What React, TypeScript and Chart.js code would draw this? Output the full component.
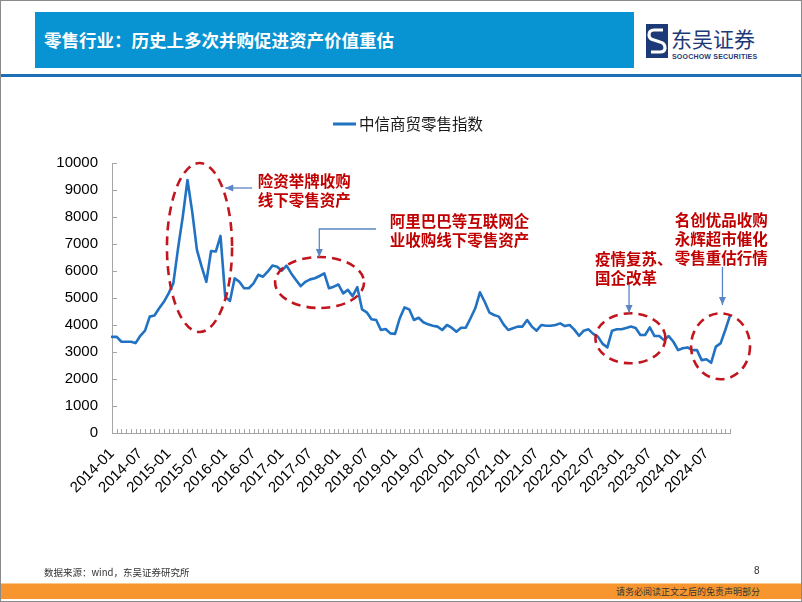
import React, { useEffect, useRef } from 'react';
import { Chart, registerables } from 'chart.js';

Chart.register(...registerables);

// ---------- data ----------
const START_YEAR = 2014;
const seriesName = '中信商贸零售指数';

// monthly values, 2014-01 .. 2024-12
const indexValues: number[] = [
  3560, 3560, 3380, 3380, 3380, 3330, 3600, 3790, 4310, 4350, 4620, 4860,
  5170, 5540, 6840, 8010, 9370, 8200, 6780, 6160, 5600, 6740, 6720, 7300,
  5050, 4890, 5730, 5600, 5360, 5360, 5540, 5860, 5790, 5975, 6200, 6160,
  6010, 6200, 5910, 5670, 5440, 5600, 5690, 5730, 5815, 5910, 5360, 5420,
  5500, 5170, 5300, 5070, 5400, 4580, 4470, 4210, 4185, 3815, 3850, 3690,
  3670, 4250, 4650, 4580, 4185, 4270, 4100, 4025, 3975, 3940, 3815, 4000,
  3900, 3750, 3900, 3900, 4250, 4620, 5210, 4860, 4460, 4370, 4310, 4025,
  3815, 3880, 3940, 3940, 4185, 3940, 3790, 4000, 3975, 3975, 4000, 4060,
  3960, 4000, 3830, 3600, 3790, 3840, 3670, 3570, 3300, 3170, 3790, 3840,
  3840, 3890, 3940, 3890, 3630, 3630, 3910, 3590, 3590, 3440, 3590, 3380,
  3070, 3140, 3170, 3070, 3070, 2700, 2730, 2600, 3200, 3320, 3815, 4350,
];

const categories: string[] = indexValues.map((_, k) => {
  const yr = START_YEAR + Math.floor(k / 12);
  const m = (k % 12) + 1;
  return `${yr}-${m < 10 ? '0' + m : m}`;
});

const LABEL_EVERY = 6;
const Y_MIN = 0;
const Y_MAX = 10000;
const Y_STEP = 1000;

// annotations in data coordinates (category index, value)
const ellipses = [
  { cx: 18.55, cy: 6870, rx: 6.9, ry: 3130 },
  { cx: 44.0, cy: 5574, rx: 9.43, ry: 944 },
  { cx: 109.9, cy: 3507, rx: 7.42, ry: 926 },
  { cx: 129.0, cy: 3211, rx: 6.25, ry: 1222 },
];

const notes = [
  { ix: 30.9, v: 9333, lines: ['险资举牌收购', '线下零售资产'] },
  { ix: 58.9, v: 7852, lines: ['阿里巴巴等互联网企', '业收购线下零售资产'] },
  { ix: 102.4, v: 6444, lines: ['疫情复苏、', '国企改革'] },
  { ix: 119.3, v: 7889, lines: ['名创优品收购', '永辉超市催化', '零售重估行情'] },
];

const arrows: number[][][] = [
  [[29.7, 9074], [24.0, 9074]],
  [[55.96, 7556], [43.94, 7556], [43.94, 6519]],
  [[109.6, 5556], [109.6, 4444]],
  [[129.4, 6148], [129.4, 4741]],
];

// ---------- styles ----------
const LINE_COLOR = '#2172c2';
const RED = '#c00000';
const ELLIPSE_RED = '#c2161f';
const ARROW_BLUE = '#5a86c5';
const AXIS_GRAY = '#a6a6a6';
const CJK = '"Noto Sans CJK SC", "Noto Sans", sans-serif';
const LATIN = '"Liberation Sans", Arial, sans-serif';

const annotationPlugin = {
  id: 'pageAnnotations',
  afterDraw(chart: any) {
    const { ctx } = chart;
    const xs = chart.scales.x;
    const ys = chart.scales.y;
    const X = (i: number) => xs.getPixelForValue(i);
    const Y = (v: number) => ys.getPixelForValue(v);
    ctx.save();

    // inside tick marks
    ctx.strokeStyle = AXIS_GRAY;
    ctx.lineWidth = 1;
    ctx.beginPath();
    for (let k = 0; k < categories.length; k++) {
      const px = Math.round(X(k)) + 0.5;
      ctx.moveTo(px, ys.bottom);
      ctx.lineTo(px, ys.bottom - 4);
    }
    ys.ticks.forEach((_: any, k: number) => {
      const py = Math.round(ys.getPixelForTick(k)) + 0.5;
      ctx.moveTo(xs.left, py);
      ctx.lineTo(xs.left + 5, py);
    });
    ctx.stroke();

    // dashed ellipses
    ctx.strokeStyle = ELLIPSE_RED;
    ctx.lineWidth = 2.6;
    ctx.setLineDash([9, 6]);
    ellipses.forEach((e) => {
      const cx = X(e.cx);
      const cy = Y(e.cy);
      const rx = Math.abs(X(e.cx + e.rx) - cx);
      const ry = Math.abs(Y(e.cy + e.ry) - cy);
      ctx.beginPath();
      ctx.ellipse(cx, cy, rx, ry, 0, 0, Math.PI * 2);
      ctx.stroke();
    });
    ctx.setLineDash([]);

    // arrows
    ctx.strokeStyle = ARROW_BLUE;
    ctx.fillStyle = ARROW_BLUE;
    ctx.lineWidth = 1.3;
    arrows.forEach((pts) => {
      const p = pts.map(([i, v]) => [X(i), Y(v)]);
      ctx.beginPath();
      ctx.moveTo(p[0][0], p[0][1]);
      for (let k = 1; k < p.length; k++) ctx.lineTo(p[k][0], p[k][1]);
      ctx.stroke();
      const [ax, ay] = p[p.length - 1];
      const [bx, by] = p[p.length - 2];
      const ang = Math.atan2(ay - by, ax - bx);
      const len = 8;
      const wid = 3.5;
      ctx.beginPath();
      ctx.moveTo(ax, ay);
      ctx.lineTo(ax - len * Math.cos(ang) + wid * Math.sin(ang), ay - len * Math.sin(ang) - wid * Math.cos(ang));
      ctx.lineTo(ax - len * Math.cos(ang) - wid * Math.sin(ang), ay - len * Math.sin(ang) + wid * Math.cos(ang));
      ctx.closePath();
      ctx.fill();
    });

    // note texts
    ctx.fillStyle = RED;
    ctx.font = `bold 15.5px ${CJK}`;
    ctx.textAlign = 'left';
    ctx.textBaseline = 'middle';
    notes.forEach((n) => {
      n.lines.forEach((line, j) => ctx.fillText(line, X(n.ix), Y(n.v) + j * 19));
    });

    // legend
    const ds = chart.data.datasets[0];
    ctx.strokeStyle = ds.borderColor;
    ctx.lineWidth = 3;
    ctx.beginPath();
    ctx.moveTo(333, 124);
    ctx.lineTo(356, 124);
    ctx.stroke();
    ctx.fillStyle = '#1a1a1a';
    ctx.font = `15.5px ${CJK}`;
    ctx.fillText(ds.label, 359, 124);

    ctx.restore();
  },
};

function ChartCanvas() {
  const ref = useRef<HTMLCanvasElement | null>(null);
  useEffect(() => {
    if (!ref.current) return;
    const chart = new Chart(ref.current, {
      type: 'line',
      data: {
        labels: categories,
        datasets: [
          {
            label: seriesName,
            data: indexValues,
            borderColor: LINE_COLOR,
            backgroundColor: LINE_COLOR,
            borderWidth: 2.6,
            pointRadius: 0,
            tension: 0,
            borderJoinStyle: 'round',
            borderCapStyle: 'round',
          },
        ],
      },
      options: {
        responsive: false,
        animation: false,
        devicePixelRatio: 1,
        layout: { padding: { left: 0, right: 72, top: 163, bottom: 89 } },
        plugins: { legend: { display: false }, tooltip: { enabled: false } },
        scales: {
          x: {
            type: 'category',
            offset: false,
            grid: { display: false, drawTicks: false },
            border: { display: true, color: AXIS_GRAY, width: 1 },
            ticks: {
              autoSkip: false,
              minRotation: 45,
              maxRotation: 45,
              padding: 12,
              color: '#000',
              font: { family: LATIN, size: 15 },
              callback: function (this: any, val: any, idx: number) {
                return idx % LABEL_EVERY === 0 ? categories[idx] : '';
              },
            },
            afterFit: (s: any) => {
              s.height = 80;
            },
          },
          y: {
            min: Y_MIN,
            max: Y_MAX,
            grid: { display: false, drawTicks: false },
            border: { display: true, color: AXIS_GRAY, width: 1 },
            ticks: {
              stepSize: Y_STEP,
              padding: 14,
              color: '#000',
              font: { family: LATIN, size: 15 },
              callback: (v: any) => String(v),
            },
            afterFit: (s: any) => {
              s.width = 112;
            },
          },
        },
      },
      plugins: [annotationPlugin],
    } as any);
    return () => chart.destroy();
  }, []);
  return (
    <canvas
      ref={ref}
      width={802}
      height={602}
      style={{ position: 'absolute', left: 0, top: 0, width: 802, height: 602 }}
    />
  );
}

export default function App() {
  useEffect(() => {
    document.body.style.margin = '0';
  }, []);
  const abs: React.CSSProperties = { position: 'absolute', whiteSpace: 'nowrap' };
  return (
    <div style={{ position: 'relative', width: 802, height: 602, overflow: 'hidden', background: '#fff', fontFamily: CJK }}>
      {/* header */}
      <div style={{ ...abs, left: 35, top: 12, width: 599, height: 56, background: '#0893d2' }} />
      <div style={{ ...abs, left: 44, top: 12, height: 56, lineHeight: '56px', color: '#fff', fontWeight: 700, fontSize: 17.5 }}>
        零售行业：历史上多次并购促进资产价值重估
      </div>
      <svg style={{ position: 'absolute', left: 646, top: 24 }} width={22} height={34} viewBox="0 0 22 34">
        <rect x={0} y={0} width={22} height={34} fill="#1d3a78" />
        <path d="M17 6 L8 6 Q3 6 3 11 Q3 15 8 16 L14 18 Q19 19 19 24 Q19 28 14 28 L5 28" stroke="#fff" strokeWidth={3.2} fill="none" />
      </svg>
      <div style={{ ...abs, left: 671, top: 24, fontSize: 21, color: '#1d3a78', lineHeight: '28px' }}>东吴证券</div>
      <div style={{ ...abs, left: 672, top: 53, fontSize: 7, fontWeight: 700, color: '#1d3a78', fontFamily: LATIN, letterSpacing: 0.2 }}>
        SOOCHOW SECURITIES
      </div>
      <div style={{ ...abs, left: 0, top: 74, width: 802, height: 3, background: '#1d6fb8' }} />

      <ChartCanvas />

      {/* footer */}
      <div style={{ ...abs, left: 44, top: 565, fontSize: 9.5, color: '#333' }}>数据来源：wind，东吴证券研究所</div>
      <div style={{ ...abs, left: 754, top: 565, fontSize: 10, color: '#333', fontFamily: LATIN }}>8</div>
      <div style={{ ...abs, left: 0, top: 583, width: 802, height: 1, background: '#fbc78d' }} />
      <div style={{ ...abs, left: 0, top: 584, width: 802, height: 15, background: '#f7962f' }} />
      <div style={{ ...abs, right: 42, top: 584, height: 15, lineHeight: '15px', fontSize: 9, color: '#333' }}>
        请务必阅读正文之后的免责声明部分
      </div>
      {/* page frame */}
      <div style={{ position: 'absolute', left: 0, top: 0, width: 802, height: 602, boxSizing: 'border-box', border: '1px solid #8a8a8a', pointerEvents: 'none' }} />
    </div>
  );
}
